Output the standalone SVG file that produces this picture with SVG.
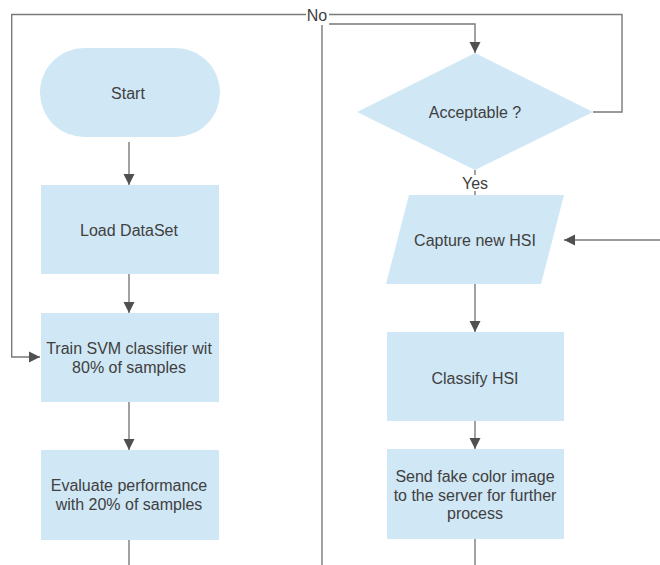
<svg xmlns="http://www.w3.org/2000/svg" width="660" height="565" viewBox="0 0 660 565">
<style>
.n{fill:#d0e7f5;stroke:none}
.t{font-family:"Liberation Sans",Arial,sans-serif;font-size:16px;fill:#404040;text-anchor:middle;dominant-baseline:central}
.e{fill:none;stroke:#7a7a7a;stroke-width:1.4}
.ea{fill:none;stroke:#7a7a7a;stroke-width:1.4;marker-end:url(#ah)}
</style>
<defs>
<marker id="ah" markerWidth="12" markerHeight="12" viewBox="0 0 12 12" refX="11" refY="6" orient="auto" markerUnits="userSpaceOnUse">
<path d="M0,0.5 L11,6 L0,11.5 Z" fill="#505050"/>
</marker>
</defs>
<rect width="660" height="565" fill="#ffffff"/>
<g id="connectors">
<path class="ea" d="M593,112 H622 V14.5 H11.7 V357 H40"/>
<path class="e" d="M322,565 V25"/>
<path class="ea" d="M329,24 H475 V53"/>
<path class="ea" d="M129,142 V185"/>
<path class="ea" d="M129,274 V313"/>
<path class="ea" d="M129,402 V450"/>
<path class="e" d="M129,540 V565"/>
<path class="e" d="M475,170 V195"/>
<path class="ea" d="M475,284 V332"/>
<path class="ea" d="M475,421 V449"/>
<path class="e" d="M475,539 V565"/>
<path class="ea" d="M660,240 H564"/>
<rect x="306" y="6" width="23" height="17.5" fill="#ffffff"/>
<text class="t" x="317" y="15">No</text>
<rect x="460" y="175" width="30" height="16" fill="#ffffff"/>
<text class="t" x="475" y="183">Yes</text>
</g>
<g id="start">
<rect class="n" x="40" y="48" width="180" height="89" rx="44.5" ry="44.5"/>
<text class="t" x="128" y="93">Start</text>
</g>
<g id="load">
<rect class="n" x="41" y="185" width="178" height="89"/>
<text class="t" x="129" y="230">Load DataSet</text>
</g>
<g id="train">
<rect class="n" x="41" y="313" width="178" height="89"/>
<text class="t" x="129" y="348">Train SVM classifier wit</text>
<text class="t" x="129" y="367">80% of samples</text>
</g>
<g id="evaluate">
<rect class="n" x="41" y="450" width="178" height="90"/>
<text class="t" x="129" y="485">Evaluate performance</text>
<text class="t" x="129" y="504">with 20% of samples</text>
</g>
<g id="acceptable">
<polygon class="n" points="475,53 593,112 475,170 357,112"/>
<text class="t" x="475" y="112">Acceptable ?</text>
</g>
<g id="capture">
<polygon class="n" points="409,195 564,195 541,284 386,284"/>
<text class="t" x="475" y="240">Capture new HSI</text>
</g>
<g id="classify">
<rect class="n" x="387" y="332" width="177" height="89"/>
<text class="t" x="475" y="378">Classify HSI</text>
</g>
<g id="send">
<rect class="n" x="387" y="449" width="177" height="90"/>
<text class="t" x="475" y="476">Send fake color image</text>
<text class="t" x="475" y="495">to the server for further</text>
<text class="t" x="475" y="513">process</text>
</g>
</svg>
